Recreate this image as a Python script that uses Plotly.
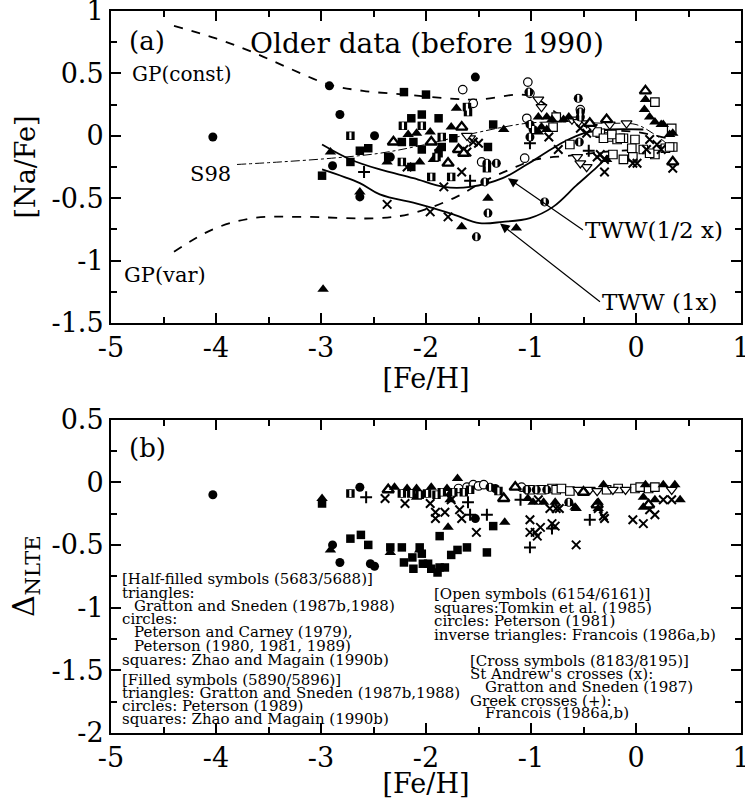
import plotly.graph_objects as go

# ---------------- tick labels ----------------
x_tickvals = [-5, -4, -3, -2, -1, 0, 1]
x_ticktext = ["-5", "-4", "-3", "-2", "-1", "0", "1"]
ya_tickvals = [-1.5, -1, -0.5, 0, 0.5, 1]
ya_ticktext = ["-1.5", "-1", "-0.5", "0", "0.5", "1"]
yb_tickvals = [-2, -1.5, -1, -0.5, 0, 0.5]
yb_ticktext = ["-2", "-1.5", "-1", "-0.5", "0", "0.5"]

# ---------------- panel (a): [Na/Fe] vs [Fe/H] ----------------
a_ftri_x = [-2.91, -2.98, -2.63, -2.17, -2.09, -1.96, -1.76, -1.71, -1.93, -2.37, -2.06, -1.87, -1.66, -1.41, -1.14,
            -1.26, -0.93, -0.85, -0.80, -0.90, -0.93, -0.85, -0.69, -0.64, 0.09, 0.08, 0.13, 0.18, 0.24, 0.32, 0.26,
            0.35, -0.28]
a_ftri_y = [-0.13, -1.23, -0.45, 0.01, 0.02, 0.03, 0.07, 0.22, -0.19, -0.21, -0.21, -0.10, -0.73, -0.50, -0.74,
            0.05, 0.15, 0.15, 0.13, 0.07, 0.03, 0.05, 0.13, 0.15, 0.29, 0.21, 0.15, 0.11, 0.09, 0.01, 0.09,
            0.02, -0.19]
a_htri_x = [-2.31, -1.95, -1.69, -1.79, -1.66, -1.64, 0.09, 0.35, -0.28, -0.44]
a_htri_y = [-0.05, -0.05, -0.11, -0.22, 0.07, -0.14, 0.36, -0.21, 0.13, 0.10]
a_fcir_x = [-4.03, -2.92, -2.82, -2.49, -2.89, -2.63, -2.34, -1.53]
a_fcir_y = [-0.01, 0.40, 0.17, 0.00, -0.24, -0.49, -0.17, 0.47]
a_hcir_x = [-1.52, -1.41, -0.87, -1.44, -0.55, -0.54, -0.53, -0.53, -1.01, -0.98, -1.01, -1.42, -1.33, -1.02]
a_hcir_y = [-0.81, -0.62, -0.53, -0.37, 0.30, -0.05, 0.19, 0.15, 0.09, 0.05, -0.01, -0.22, -0.22, 0.35]
a_ocir_x = [-1.65, -1.55, -1.03, -1.01, -1.04, -1.06, -1.47, -0.53]
a_ocir_y = [0.37, 0.26, 0.43, 0.34, 0.14, -0.18, -0.21, 0.21]
a_fsq_x = [-2.99, -2.72, -2.63, -2.55, -2.21, -2.00, -2.14, -2.04, -1.88, -2.23, -2.12, -2.04, -1.85, -1.74, -2.14,
           -2.36, -1.88, -1.41, -1.36]
a_fsq_y = [-0.32, -0.21, -0.12, -0.10, 0.35, 0.33, 0.14, 0.17, 0.14, -0.05, -0.05, -0.11, -0.09, -0.02, -0.25,
           -0.17, -0.14, -0.09, 0.09]
a_hsq_x = [-2.72, -1.60, -2.22, -2.04, -1.85, -1.90, -2.23, -1.95, -1.76, -1.42, -1.61]
a_hsq_y = [0.00, 0.19, 0.08, 0.08, -0.01, -0.17, -0.21, -0.33, -0.33, -0.26, 0.23]
a_osq_x = [0.18, 0.34, 0.35, -0.22, -0.12, -0.03, 0.18, 0.28, -0.34, -0.26, -0.18, -0.12, -0.01, -0.63, -0.76,
           -0.79, -0.37, -0.31, -0.23, -0.04, 0.07, 0.13, 0.32, -0.15]
a_osq_y = [0.27, 0.06, -0.09, -0.15, -0.19, -0.17, -0.15, -0.10, 0.02, -0.01, -0.03, -0.02, -0.03, -0.07, 0.15,
           0.07, 0.03, -0.02, 0.01, -0.10, -0.11, -0.14, -0.09, -0.02]
a_itri_x = [-1.58, -1.61, -0.93, -0.90, -0.61, -0.55, -0.47, -0.42, -0.25, -0.09, -0.56, -0.47, -0.53]
a_itri_y = [-0.02, 0.00, 0.29, 0.23, 0.13, 0.11, 0.10, 0.07, 0.09, 0.10, -0.17, -0.25, -0.22]
a_xcr_x = [-1.64, -2.18, -1.66, -1.83, -2.37, -1.96, -1.79, -1.55, -1.50, -1.61, -0.83, -0.53, -0.47, -0.37, -0.30,
           -0.30, -0.03, 0.13, 0.20, 0.24, 0.10, 0.01, 0.35, -0.74, -0.34]
a_xcr_y = [-0.11, -0.25, -0.29, -0.41, -0.55, -0.61, -0.65, -0.05, -0.06, -0.13, -0.01, 0.06, 0.02, -0.17, -0.19,
           -0.29, -0.22, -0.03, -0.07, -0.11, -0.11, -0.22, -0.26, -0.11, -0.15]
a_plus_x = [-2.59, -1.58, -1.01, -0.45]
a_plus_y = [-0.29, -0.36, -0.06, -0.12]

# model curves in panel (a)
gp_const_x = [-4.4, -4.0, -3.65, -3.3, -2.92, -2.6, -2.2, -1.8, -1.5, -1.1, -0.95, -0.75, -0.55, -0.3, 0.0, 0.3]
gp_const_y = [0.88, 0.78, 0.67, 0.54, 0.41, 0.36, 0.33, 0.30, 0.29, 0.33, 0.30, 0.18, 0.10, 0.05, 0.03, -0.02]
gp_var_x = [-4.4, -4.03, -3.65, -3.2, -2.44, -2.12, -1.71, -1.46, -1.2, -0.95, -0.63, -0.31, 0.0, 0.3]
gp_var_y = [-0.93, -0.75, -0.66, -0.65, -0.66, -0.62, -0.49, -0.37, -0.27, -0.19, -0.16, -0.13, -0.11, -0.07]
s98_x = [-3.8, -3.39, -2.9, -2.44, -2.06, -1.6, -1.04, -0.7, -0.3, 0.0, 0.16, 0.32]
s98_y = [-0.23, -0.21, -0.18, -0.14, -0.08, 0.01, 0.10, 0.11, 0.10, 0.09, 0.02, -0.08]
tww_half_x = [-2.99, -2.72, -2.44, -2.12, -1.83, -1.58, -1.27, -1.04, -0.85, -0.69, -0.5, -0.25, 0.07]
tww_half_y = [-0.07, -0.19, -0.27, -0.34, -0.41, -0.41, -0.34, -0.23, -0.13, -0.05, 0.02, 0.05, 0.05]
tww_1x_x = [-2.99, -2.63, -2.44, -2.06, -1.74, -1.49, -1.27, -1.01, -0.79, -0.57, -0.37, -0.25]
tww_1x_y = [-0.27, -0.38, -0.47, -0.55, -0.63, -0.70, -0.69, -0.66, -0.57, -0.40, -0.25, -0.15]

# ---------------- panel (b): Delta NLTE vs [Fe/H] ----------------
b_fcir_x = [-4.03, -2.63, -2.89, -2.82, -2.49, -2.53, -1.53, -1.34]
b_fcir_y = [-0.10, -0.04, -0.50, -0.64, -0.67, -0.65, -0.29, -0.05]
b_ftri_x = [-2.99, -2.91, -2.34, -2.06, -1.79, -1.25, -1.70, -2.30, -2.18, -2.09, -1.95, -1.80, -1.77, -0.31, 0.09,
            0.26, 0.37, -2.09, -1.77, -1.03, -0.98, -0.88, -0.77, -0.63, -0.58, 0.07, 0.18, 0.42, -0.57, -0.36,
            -0.36, 0.07]
b_ftri_y = [-0.13, -0.54, -0.56, -0.54, -0.36, -0.32, 0.03, -0.04, -0.05, -0.05, -0.04, -0.05, -0.09, -0.02, -0.02,
            -0.02, -0.02, -0.12, -0.14, -0.13, -0.16, -0.16, -0.16, -0.17, -0.20, -0.12, -0.14, -0.14, -0.21, -0.21,
            -0.16, -0.20]
b_fsq_x = [-2.99, -2.72, -2.62, -2.55, -2.34, -2.23, -2.21, -2.13, -2.06, -2.04, -2.12, -2.03, -1.98, -1.95, -1.87,
           -1.89, -1.82, -1.76, -1.70, -1.61, -1.42, -1.87, -1.36]
b_fsq_y = [-0.17, -0.45, -0.42, -0.50, -0.52, -0.52, -0.64, -0.60, -0.52, -0.57, -0.69, -0.65, -0.65, -0.69, -0.68,
           -0.72, -0.68, -0.58, -0.54, -0.52, -0.56, -0.43, -0.35]
b_hsq_x = [-2.72, -2.23, -2.14, -2.06, -1.99, -1.90, -1.85, -1.74, -1.64, -1.58, -1.31]
b_hsq_y = [-0.09, -0.09, -0.09, -0.10, -0.09, -0.10, -0.08, -0.08, -0.08, -0.06, -0.07]
b_htri_x = [-2.36, -1.26, -1.15, -0.50, -0.37, 0.12]
b_htri_y = [-0.06, -0.13, -0.04, -0.08, -0.18, -0.18]
b_ocir_x = [-1.69, -1.61, -1.55, -1.50, -1.45, -1.09]
b_ocir_y = [-0.05, -0.04, -0.02, -0.03, -0.02, -0.04]
b_hcir_x = [-1.39, -1.04, -0.95, -0.85, -0.64]
b_hcir_y = [-0.04, -0.06, -0.06, -0.06, -0.16]
b_osq_x = [-1.01, -0.90, -0.80, -0.76, -0.71, -0.63, -0.28, -0.17, -0.01, 0.04, 0.12, 0.18]
b_osq_y = [-0.06, -0.06, -0.05, -0.06, -0.05, -0.07, -0.06, -0.05, -0.05, -0.04, -0.05, -0.04]
b_itri_x = [-0.55, -0.44, -0.37, -0.22, -0.10, 0.34]
b_itri_y = [-0.06, -0.06, -0.07, -0.06, -0.06, -0.06]
b_xcr_x = [-2.39, -2.20, -1.96, -1.76, -1.91, -1.91, -1.82, -1.68, -1.66, -1.52, -1.01, -1.01, -0.96, -0.91, -0.94,
           -0.80, -0.77, -0.82, -0.76, -0.57, -0.30, -0.31, -0.03, 0.07, 0.18, 0.13, -0.93, -0.73, 0.26, 0.34, -0.36]
b_xcr_y = [-0.13, -0.17, -0.17, -0.14, -0.24, -0.29, -0.24, -0.22, -0.29, -0.40, -0.30, -0.40, -0.40, -0.36, -0.43,
           -0.33, -0.35, -0.21, -0.21, -0.50, -0.29, -0.27, -0.30, -0.33, -0.26, -0.22, -0.14, -0.21, -0.14, -0.14,
           -0.21]
b_plus_x = [-2.57, -1.60, -1.58, -1.42, -1.01, -0.80, -0.44, -1.10]
b_plus_y = [-0.12, -0.16, -0.26, -0.26, -0.52, -0.37, -0.30, -0.14]

# ---------------- text ----------------
legend_left = ["[Half-filled symbols (5683/5688)]", "triangles:", "Gratton and Sneden (1987b,1988)", "circles:",
               "Peterson and Carney (1979),", "Peterson (1980, 1981, 1989)", "squares: Zhao and Magain (1990b)",
               "[Filled symbols (5890/5896)]", "triangles: Gratton and Sneden (1987b,1988)",
               "circles: Peterson (1989)", "squares: Zhao and Magain (1990b)"]
legend_right = ["[Open symbols (6154/6161)]", "squares:Tomkin et al. (1985)", "circles: Peterson (1981)",
                "inverse triangles: Francois (1986a,b)", "[Cross symbols (8183/8195)]", "St Andrew's crosses (x):",
                "Gratton and Sneden (1987)", "Greek crosses (+):", "Francois (1986a,b)"]

SERIF = "DejaVu Serif"
fig = go.Figure()


def marker_trace(xs, ys, symbol, size, xa, ya, fill="black", lw=0.0, lc="black"):
    fig.add_trace(go.Scatter(x=xs, y=ys, mode="markers", xaxis=xa, yaxis=ya, showlegend=False,
                             hoverinfo="skip",
                             marker=dict(symbol=symbol, size=size, color=fill, line=dict(color=lc, width=lw))))


def curve(xs, ys, dash, width, xa="x", ya="y"):
    fig.add_trace(go.Scatter(
        x=xs, y=ys, mode="lines", xaxis=xa, yaxis=ya, showlegend=False, hoverinfo="skip",
        line=dict(color="black", width=width, dash=dash, shape="spline", smoothing=1.0)))


# curves (drawn first, under the symbols)
curve(gp_const_x, gp_const_y, "dash", 1.8)
curve(gp_var_x, gp_var_y, "dash", 1.8)
curve(s98_x, s98_y, "dashdot", 1.0)
curve(tww_half_x, tww_half_y, "solid", 1.8)
curve(tww_1x_x, tww_1x_y, "solid", 1.8)

panels = [
    ("x", "y", dict(ftri=(a_ftri_x, a_ftri_y), htri=(a_htri_x, a_htri_y), fcir=(a_fcir_x, a_fcir_y),
                    hcir=(a_hcir_x, a_hcir_y), ocir=(a_ocir_x, a_ocir_y), fsq=(a_fsq_x, a_fsq_y),
                    hsq=(a_hsq_x, a_hsq_y), osq=(a_osq_x, a_osq_y), itri=(a_itri_x, a_itri_y),
                    xcr=(a_xcr_x, a_xcr_y), plus=(a_plus_x, a_plus_y))),
    ("x2", "y2", dict(ftri=(b_ftri_x, b_ftri_y), htri=(b_htri_x, b_htri_y), fcir=(b_fcir_x, b_fcir_y),
                      hcir=(b_hcir_x, b_hcir_y), ocir=(b_ocir_x, b_ocir_y), fsq=(b_fsq_x, b_fsq_y),
                      hsq=(b_hsq_x, b_hsq_y), osq=(b_osq_x, b_osq_y), itri=(b_itri_x, b_itri_y),
                      xcr=(b_xcr_x, b_xcr_y), plus=(b_plus_x, b_plus_y))),
]
for xa, ya, d in panels:
    marker_trace(*d["osq"], "square", 8.5, xa, ya, fill="white", lw=1.2)
    marker_trace(*d["itri"], "triangle-down", 9.5, xa, ya, fill="white", lw=1.2)
    marker_trace(*d["ocir"], "circle", 8.5, xa, ya, fill="white", lw=1.2)
    marker_trace(*d["xcr"], "x-thin", 8.5, xa, ya, lw=2.0)
    marker_trace(*d["plus"], "cross-thin", 8.5, xa, ya, lw=2.0)
    marker_trace(*d["htri"], "triangle-up", 10, xa, ya, fill="white", lw=2.3)
    marker_trace(*d["ftri"], "triangle-up", 10, xa, ya)
    marker_trace(*d["fsq"], "square", 8.5, xa, ya)
    marker_trace(*d["fcir"], "circle", 9, xa, ya)
    # half-filled: black symbol with a white bar inside
    marker_trace(*d["hsq"], "square", 8.5, xa, ya)
    marker_trace(*d["hcir"], "circle", 9, xa, ya)
    hx = list(d["hsq"][0]) + list(d["hcir"][0])
    hy = list(d["hsq"][1]) + list(d["hcir"][1])
    marker_trace(hx, hy, "line-ns", 5, xa, ya, fill="white", lw=2.2, lc="white")

ann = []


def text(x, y, s, size, xref="x", yref="y", xanchor="center"):
    ann.append(dict(x=x, y=y, xref=xref, yref=yref, text=s, showarrow=False, xanchor=xanchor, yanchor="middle",
                    font=dict(family=SERIF, size=size, color="black")))


text(-4.657, 0.76, "(a)", 26)
text(-1.986, 0.736, "Older data (before 1990)", 28)
text(-4.819, 0.496, "GP(const)", 20, xanchor="left")
text(-4.057, -0.308, "S98", 21)
text(-4.895, -1.112, "GP(var)", 21, xanchor="left")
# labelled arrows: the label's left edge sits at the arrow tail
for s, hx, hy, tx, ty in [("TWW(1/2 x)", -1.22, -0.34, -0.505, -0.755),
                          ("TWW (1x)", -1.295, -0.704, -0.343, -1.33)]:
    ann.append(dict(x=hx, y=hy, ax=tx, ay=ty, xref="x", yref="y", axref="x", ayref="y", text=s,
                    xanchor="left", yanchor="middle", font=dict(family=SERIF, size=23, color="black"),
                    showarrow=True, arrowhead=2, arrowsize=1.6, arrowwidth=1.2, arrowcolor="black"))

text(-4.657, 0.271, "(b)", 26, xref="x2", yref="y2")
left_pos = [(-4.914, -0.774), (-4.914, -0.880), (-4.803, -0.986), (-4.914, -1.092), (-4.803, -1.194),
            (-4.803, -1.305), (-4.914, -1.414), (-4.914, -1.579), (-4.914, -1.680), (-4.914, -1.784),
            (-4.914, -1.892)]
right_pos = [(-1.946, -0.888), (-1.946, -1.002), (-1.946, -1.106), (-1.946, -1.220), (-1.597, -1.427),
             (-1.597, -1.533), (-1.454, -1.632), (-1.597, -1.744), (-1.454, -1.844)]
for s, (px, py) in zip(legend_left, left_pos):
    text(px, py, s, 15, xref="x2", yref="y2", xanchor="left")
for s, (px, py) in zip(legend_right, right_pos):
    text(px, py, s, 15, xref="x2", yref="y2", xanchor="left")

common = dict(showline=True, linewidth=2, linecolor="black", mirror="allticks", ticks="inside", ticklen=10,
              tickwidth=1.5, tickcolor="black", showgrid=False, zeroline=False, automargin=False,
              ticklabeloverflow="allow",
              tickfont=dict(family=SERIF, size=27, color="black"), tickmode="array")
xcommon = dict(common, range=[-5, 1], tickvals=x_tickvals, ticktext=x_ticktext,
               minor=dict(tickmode="linear", tick0=-5, dtick=0.5, ticks="inside", ticklen=6, tickwidth=1.5,
                          tickcolor="black", showgrid=False),
               title=dict(text="[Fe/H]", font=dict(family=SERIF, size=27, color="black"), standoff=2))
ymin = dict(tickmode="linear", tick0=-2, dtick=0.25, ticks="inside", ticklen=6, tickwidth=1.5, tickcolor="black",
            showgrid=False)

fig.update_layout(
    template="none",
    width=745, height=799, margin=dict(l=111, r=4, t=11, b=66, autoexpand=False),
    paper_bgcolor="white", plot_bgcolor="white", showlegend=False,
    xaxis=dict(xcommon, domain=[0, 1], anchor="y"),
    yaxis=dict(common, domain=[0.568, 1], anchor="x", range=[-1.5, 1], tickvals=ya_tickvals, ticktext=ya_ticktext,
               minor=ymin, title=dict(text="[Na/Fe]", font=dict(family=SERIF, size=27, color="black"), standoff=8)),
    xaxis2=dict(xcommon, domain=[0, 1], anchor="y2"),
    yaxis2=dict(common, domain=[0, 0.4342], anchor="x2", range=[-2, 0.5], tickvals=yb_tickvals,
                ticktext=yb_ticktext, minor=ymin,
                title=dict(text="\u0394<sub>NLTE</sub>", font=dict(family=SERIF, size=30, color="black"),
                           standoff=8)),
    annotations=ann,
)

fig.write_html("out.html", config={"displayModeBar": False},
               post_script="document.body.style.margin='0';document.body.style.padding='0';")
